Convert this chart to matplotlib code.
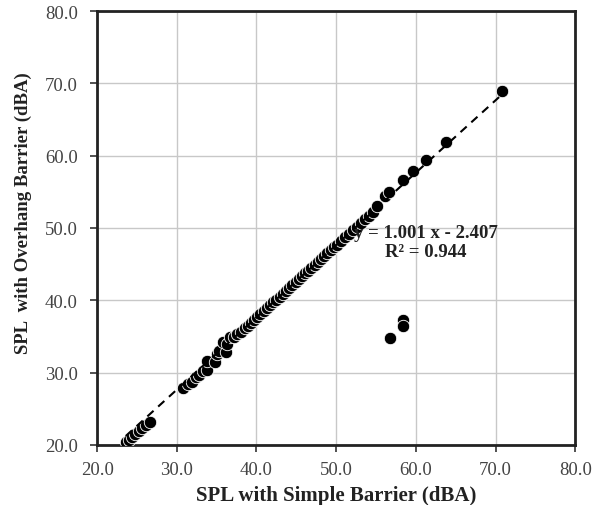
import matplotlib
matplotlib.use("Agg")
import matplotlib.pyplot as plt

# SPL readings (dBA)
spl_simple = [23.6, 24.0, 24.4, 24.8, 25.2, 25.6, 26.1, 26.6,
              30.8, 31.4, 31.9, 32.4, 32.8, 33.3, 33.8, 33.8, 34.8, 35.0, 35.3,
              36.2, 35.8, 36.3, 36.7, 37.2, 37.6, 38.0, 38.5, 38.9, 39.3, 39.7,
              40.1, 40.5, 40.9, 41.3, 41.7, 42.1, 42.5, 42.9, 43.3, 43.7, 44.1,
              44.5, 44.9, 45.3, 45.7, 46.1, 46.5, 46.9, 47.3, 47.7, 48.1, 48.5,
              48.9, 49.3, 49.7, 50.1, 50.6, 51.1, 51.6, 52.1, 52.6, 53.1, 53.6,
              54.1, 54.6, 55.1, 56.1, 56.6, 58.4, 59.6, 61.3, 63.8, 70.8,
              56.8, 58.4, 58.4]
spl_overhang = [20.4, 20.7, 21.1, 21.5, 21.9, 22.3, 22.7, 23.2,
                27.8, 28.4, 28.7, 29.4, 29.7, 30.2, 30.4, 31.6, 31.5, 32.6, 33.0,
                32.9, 34.2, 34.0, 34.9, 34.9, 35.3, 35.6, 36.1, 36.5, 36.9, 37.3,
                37.7, 38.1, 38.5, 38.9, 39.3, 39.7, 40.1, 40.5, 40.9, 41.3, 41.7,
                42.1, 42.5, 42.9, 43.3, 43.7, 44.1, 44.5, 44.9, 45.3, 45.7, 46.1,
                46.5, 46.9, 47.3, 47.7, 48.2, 48.7, 49.2, 49.7, 50.2, 50.7, 51.2,
                51.7, 52.2, 53.0, 54.4, 55.0, 56.6, 57.9, 59.4, 61.9, 68.9,
                34.8, 37.3, 36.4]

slope, intercept = 1.001, -2.407
fit_x = [min(spl_simple), max(spl_simple)]
fit_y = [slope * v + intercept for v in fit_x]

serif = ["Liberation Serif", "DejaVu Serif"]

fig = plt.figure(figsize=(6.03, 5.06), dpi=100)
ax = fig.add_axes([0.161, 0.119, 0.793, 0.857])

ax.grid(True, color="#c8c8c8", linewidth=1.0)
ax.set_axisbelow(True)
ax.scatter(spl_simple, spl_overhang, s=80, color="black",
           edgecolors="white", linewidths=0.6, zorder=3)
ax.plot(fit_x, fit_y, color="black", linestyle=(0, (4, 3)), linewidth=1.5, zorder=4)

ax.text(61.3, 49.4, "y = 1.001 x - 2.407", ha="center", va="center",
        fontsize=13.5, fontweight="bold", family=serif, color="#222222", zorder=5)
ax.text(61.3, 46.8, "R\u00b2 = 0.944", ha="center", va="center",
        fontsize=13.5, fontweight="bold", family=serif, color="#222222", zorder=5)

ax.set_xlim(20, 80)
ax.set_ylim(20, 80)
ticks = [20, 30, 40, 50, 60, 70, 80]
ax.set_xticks(ticks)
ax.set_yticks(ticks)
ax.set_xticklabels([f"{t:.1f}" for t in ticks], family=serif, fontsize=13.5, color="#444444")
ax.set_yticklabels([f"{t:.1f}" for t in ticks], family=serif, fontsize=13.5, color="#444444")
ax.tick_params(direction="out", length=5, width=1.2, color="#333333")
ax.tick_params(axis="x", pad=7)
ax.tick_params(axis="y", pad=9)

for sp in ax.spines.values():
    sp.set_linewidth(2)
    sp.set_color("#222222")

ax.set_xlabel("SPL with Simple Barrier (dBA)", family=serif, fontsize=15,
              fontweight="bold", color="#222222")
ax.set_ylabel("SPL  with Overhang Barrier (dBA)", family=serif, fontsize=13.5,
              fontweight="bold", color="#222222")
ax.xaxis.set_label_coords(0.5, -0.093)
ax.yaxis.set_label_coords(-0.137, 0.537)

fig.savefig("out.png", dpi=100)
